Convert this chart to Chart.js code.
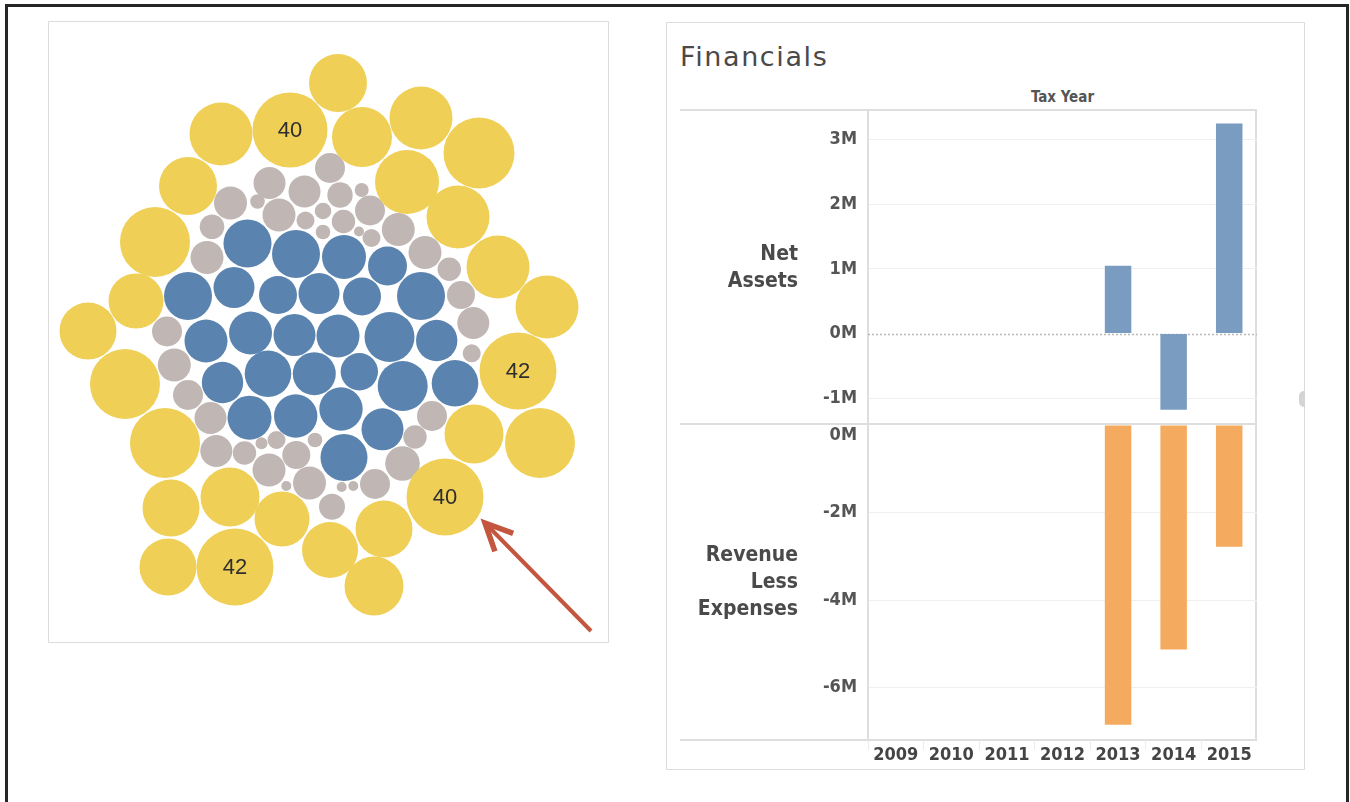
<!DOCTYPE html>
<html lang="en">
<head>
<meta charset="UTF-8" />
<title>Packed bubbles and Financials</title>
<script src="https://cdn.jsdelivr.net/npm/chart.js@4.4.1/dist/chart.umd.min.js"></script>
<style>
  body { margin: 0; width: 1350px; height: 802px; overflow: hidden; position: relative; background: #fff; font-family: "DejaVu Sans", sans-serif; }
  .frame { position: absolute; left: 5px; top: 4px; width: 1344px; height: 900px; border: 3px solid #262626; box-sizing: border-box; }
  .card { position: absolute; border: 1px solid #dcdcdc; box-sizing: border-box; background: #fff; }
  canvas { position: absolute; }
  .hline { position: absolute; left: 680px; width: 577px; height: 2px; background: #dedede; }
  .vline { position: absolute; left: 1255px; top: 110px; width: 2px; height: 631px; background: #dedede; }
  .title { position: absolute; left: 680px; top: 42px; font-size: 27px; line-height: 30px; color: #4a4a4a; letter-spacing: 1.6px; }
  .axis-title { position: absolute; left: 868px; width: 389px; top: 87px; text-align: center; font: bold 15px "DejaVu Sans Condensed", "DejaVu Sans", sans-serif; line-height: 20px; color: #555; }
  .row-label { position: absolute; left: 640px; width: 158px; text-align: right; font: bold 21px "DejaVu Sans Condensed", "DejaVu Sans", sans-serif; line-height: 27px; color: #4a4a4a; }
  .handle { position: absolute; left: 1299px; top: 391px; width: 6px; height: 16px; background: #d4d4d4; border-radius: 5px 0 0 5px; }
</style>
</head>
<body>
  <div class="frame"></div>

  <div class="card" style="left:48px; top:21px; width:561px; height:622px;"></div>
  <!-- canvas is 40px larger on every side: bubble charts reserve room for the biggest radius -->
  <canvas id="bubbles" width="641" height="702" style="left:8px; top:-19px;"></canvas>

  <div class="card" style="left:666px; top:22px; width:639px; height:748px;"></div>
  <div class="title">Financials</div>
  <div class="axis-title">Tax Year</div>
  <div class="hline" style="top:109px;"></div>
  <div class="hline" style="top:423px;"></div>
  <div class="hline" style="top:739px;"></div>
  <div class="vline"></div>
  <div class="row-label" style="top:240px;">Net<br>Assets</div>
  <div class="row-label" style="top:541px;">Revenue<br>Less<br>Expenses</div>
  <div class="handle"></div>

  <canvas id="netChart" width="577" height="362" style="left:680px; top:86px;"></canvas>
  <canvas id="revChart" width="577" height="381" style="left:680px; top:389px;"></canvas>

<script>
  // Packed bubbles: [x, y, r] (x/y in the chart's own units)
  const yellowBubbles = [
    [338, 83, 29], [221, 134, 31.5], [290, 130, 37.5], [362, 137, 30], [421, 118, 31.5],
    [479, 153, 35.5], [188, 186, 29], [407, 182, 32], [458, 217, 31.5], [155, 242, 35],
    [498, 267, 31.5], [136, 301, 27.5], [88, 331, 28.5], [547, 307, 31.5], [125, 384, 35],
    [518, 371, 38.5], [165, 443, 35], [474, 434, 29.5], [540, 443, 35], [171, 508, 28.5],
    [230, 497, 29.5], [282, 519, 27.5], [445, 497, 38.5], [330, 550, 28], [384, 529, 28.5],
    [168, 567, 28.5], [235, 567, 38.5], [374, 586, 29.5]
  ];
  const yellowLabels = ["", "", "40", "", "", "", "", "", "", "", "", "", "", "", "",
    "42", "", "", "", "", "", "", "40", "", "", "", "42", ""];

  const grayBubbles = [
    [330, 168, 15], [269.5, 183, 16], [230.5, 203, 16.5], [257.5, 201.5, 7.3], [304.5, 191.5, 16],
    [279, 215, 16.5], [305.5, 220.5, 9], [323, 211, 8.3], [340, 195, 12.7], [361.7, 190, 7],
    [343.5, 221.5, 11.7], [370, 210.5, 15], [323, 232, 7.3], [359, 231.5, 5], [371.5, 238, 9],
    [398.3, 229.5, 16.5], [212, 226.7, 12.3], [207, 257.5, 16.5], [425, 252.5, 16.5], [449.3, 269.3, 11.7],
    [461, 295, 14], [473.3, 323, 16], [471.7, 353.3, 9], [167, 331.5, 15], [174.3, 365, 16.5],
    [188, 395, 15], [210.5, 418, 16], [216.3, 451, 16], [244.5, 453, 11.7], [261.5, 443.3, 6],
    [276.5, 440, 9], [296.3, 455, 14], [315, 440, 7.3], [269, 470, 16.5], [286.3, 486, 5],
    [309.5, 483, 16.5], [332, 506.7, 13], [341.7, 487, 5], [353.3, 486, 5], [375, 484, 15],
    [402.5, 463.5, 17.3], [415, 437, 11.7], [432, 416, 15]
  ];

  const blueBubbles = [
    [247.5, 243.5, 24], [296, 254, 24], [344, 257, 22], [387.5, 266, 19.5], [188, 296, 24],
    [234, 287.5, 20.5], [278, 295, 19], [319, 293.5, 20.5], [362, 296.5, 19], [421, 296, 24],
    [206, 341, 21.5], [250.5, 333, 21.5], [294.5, 335, 21], [338, 336, 21.5], [389.5, 337, 25],
    [436.7, 340.5, 20.7], [222.5, 382.5, 20.7], [268, 373.7, 23.3], [314.3, 373.7, 21.5], [359.3, 371.7, 18.7],
    [402.7, 386, 25], [455, 383.3, 23.3], [249.5, 417.7, 22], [295.7, 416, 21.7], [341, 409, 21.7],
    [382.5, 429.3, 21], [344, 457.5, 23.5]
  ];

  // Pointer arrow: tail, then tip
  const arrowPath = [{ x: 591, y: 631 }, { x: 485, y: 523 }];

  // Financials
  const years = ["2009", "2010", "2011", "2012", "2013", "2014", "2015"];
  const netAssets = [null, null, null, null, 1.05e6, -1.18e6, 3.25e6];
  const revenueLessExpenses = [null, null, null, null, -6.85e6, -5.13e6, -2.78e6];
  const netTicks = [-1e6, 0, 1e6, 2e6, 3e6];
  const revTicks = [-6e6, -4e6, -2e6, 0];

  const toPoints = list => list.map(([x, y, r]) => ({ x, y, r }));

  // Draw the number labels on the yellow bubbles
  const bubbleLabels = {
    id: "bubbleLabels",
    afterDatasetsDraw(chart) {
      const ctx = chart.ctx;
      const meta = chart.getDatasetMeta(0);
      ctx.save();
      ctx.font = '22px "Liberation Sans", Arial, sans-serif';
      ctx.fillStyle = "#2e2e2e";
      ctx.textAlign = "center";
      ctx.textBaseline = "middle";
      meta.data.forEach((pt, i) => {
        if (yellowLabels[i]) ctx.fillText(yellowLabels[i], pt.x, pt.y + 1);
      });
      ctx.restore();
    }
  };

  // Arrow head at the end of the line dataset
  const arrowHead = {
    id: "arrowHead",
    afterDatasetsDraw(chart) {
      const pts = chart.getDatasetMeta(3).data;
      const tail = pts[0], tip = pts[1];
      const ang = Math.atan2(tail.y - tip.y, tail.x - tip.x);
      const len = 30, spread = 0.44;
      const ctx = chart.ctx;
      ctx.save();
      ctx.strokeStyle = "#c4553e";
      ctx.lineWidth = 5.5;
      ctx.lineJoin = "miter";
      ctx.beginPath();
      ctx.moveTo(tip.x + len * Math.cos(ang + spread), tip.y + len * Math.sin(ang + spread));
      ctx.lineTo(tip.x, tip.y);
      ctx.lineTo(tip.x + len * Math.cos(ang - spread), tip.y + len * Math.sin(ang - spread));
      ctx.stroke();
      ctx.restore();
    }
  };

  new Chart(document.getElementById("bubbles"), {
    type: "bubble",
    data: {
      datasets: [
        { data: toPoints(yellowBubbles), backgroundColor: "#efcf55", borderWidth: 0 },
        { data: toPoints(grayBubbles), backgroundColor: "#c0b7b5", borderWidth: 0 },
        { data: toPoints(blueBubbles), backgroundColor: "#5a84af", borderWidth: 0 },
        { type: "line", data: arrowPath, borderColor: "#c4553e", borderWidth: 4, pointRadius: 0, fill: false }
      ]
    },
    options: {
      responsive: false,
      animation: false,
      layout: { padding: 40 },
      plugins: { legend: { display: false }, tooltip: { enabled: false } },
      elements: { point: { hoverRadius: 0, hoverBorderWidth: 0 } },
      scales: {
        x: { type: "linear", min: 48, max: 609, display: false },
        y: { type: "linear", min: 21, max: 643, reverse: true, display: false }
      }
    },
    plugins: [bubbleLabels, arrowHead]
  });

  const tickFont = { family: '"DejaVu Sans Condensed", "DejaVu Sans", sans-serif', size: 18, weight: "bold" };
  const fmtM = v => (v / 1e6) + "M";

  // Dotted zero line in the Net Assets pane
  const zeroLine = {
    id: "zeroLine",
    beforeDatasetsDraw(chart) {
      const { ctx, chartArea, scales } = chart;
      const y = Math.round(scales.y.getPixelForValue(0)) + 0.5;
      ctx.save();
      ctx.strokeStyle = "#b8b8b8";
      ctx.lineWidth = 1.5;
      ctx.setLineDash([2, 2]);
      ctx.beginPath();
      ctx.moveTo(chartArea.left, y);
      ctx.lineTo(chartArea.right, y);
      ctx.stroke();
      ctx.restore();
    }
  };

  new Chart(document.getElementById("netChart"), {
    type: "bar",
    data: {
      labels: years,
      datasets: [{ data: netAssets, backgroundColor: "#7b9cc1", barPercentage: 0.477, categoryPercentage: 1 }]
    },
    options: {
      responsive: false,
      animation: false,
      layout: { padding: { top: 24, bottom: 24, left: 0, right: 0 } },
      plugins: { legend: { display: false }, tooltip: { enabled: false } },
      scales: {
        x: { display: false },
        y: {
          min: -1.40e6, max: 3.46e6,
          afterFit: s => { s.width = 188; },
          afterBuildTicks: s => { s.ticks = netTicks.map(v => ({ value: v })); },
          ticks: { font: tickFont, color: "#555", padding: 11, callback: fmtM },
          grid: { drawTicks: false, color: c => (c.tick && c.tick.value === 0 ? "rgba(0,0,0,0)" : "#efefef") },
          border: { display: true, color: "#dedede", width: 2 }
        }
      }
    },
    plugins: [zeroLine]
  });

  new Chart(document.getElementById("revChart"), {
    type: "bar",
    data: {
      labels: years,
      datasets: [{ data: revenueLessExpenses, backgroundColor: "#f4ab5f", barPercentage: 0.477, categoryPercentage: 1 }]
    },
    options: {
      responsive: false,
      animation: false,
      layout: { padding: { top: 36, bottom: 0, left: 0, right: 0 } },
      plugins: { legend: { display: false }, tooltip: { enabled: false } },
      scales: {
        x: {
          afterFit: s => { s.height = 30; },
          ticks: { font: tickFont, color: "#444", padding: -5, maxRotation: 0, autoSkip: false },
          grid: { drawOnChartArea: false, drawTicks: true, tickLength: 10, color: "#ececec", offset: true },
          border: { display: false }
        },
        y: {
          min: -7.2e6, max: 0,
          afterFit: s => { s.width = 188; },
          afterBuildTicks: s => { s.ticks = revTicks.map(v => ({ value: v })); },
          // top label sits just under the pane edge, as in the original
          ticks: { font: tickFont, color: "#555", padding: 11, callback: v => (v === 0 ? ["", fmtM(v)] : fmtM(v)) },
          grid: { drawTicks: false, color: c => (c.tick && c.tick.value === 0 ? "rgba(0,0,0,0)" : "#efefef") },
          border: { display: true, color: "#dedede", width: 2 }
        }
      }
    }
  });
</script>
</body>
</html>
